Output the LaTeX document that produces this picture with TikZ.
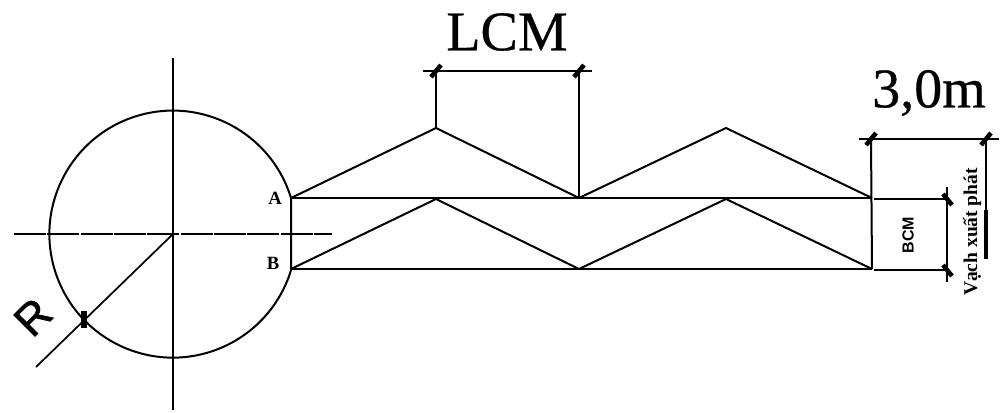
\documentclass[tikz,border=0pt]{standalone}
\usepackage{fontspec}
\setmainfont{Liberation Serif}
\setsansfont{Liberation Sans}
\newfontfamily\heavyserif[FakeBold=0.5]{Liberation Serif}
\newfontfamily\heavysans[FakeBold=1.5]{Liberation Sans}
\usetikzlibrary{calc}
\tikzset{
  ln/.style={line width=1.5pt,black},
  thin ln/.style={line width=1.3pt,black},
  centre ln/.style={line width=1.3pt,black,dash pattern=on 24pt off 1pt},
  tick/.style={line width=3.4pt,black},
  big/.style={font=\fontsize{42}{42}\selectfont\heavyserif,inner sep=0pt},
  lab/.style={font=\fontsize{14}{14}\selectfont\bfseries,inner sep=0pt},
}
\newcommand{\slashtick}[1]{\draw[tick] ($(#1)+(-5,6)$) -- ($(#1)+(5,-6)$);}
\begin{document}
\begin{tikzpicture}[x=0.75pt,y=-0.75pt]
\useasboundingbox (0,0) rectangle (1000,412);
% key points
\coordinate (O) at (173,234);
\coordinate (A) at (291,198);
\coordinate (B) at (291,269);
\coordinate (a1) at (436,128);
\coordinate (a2) at (579,198);
\coordinate (a3) at (726,128);
\coordinate (a4) at (872,198);
\coordinate (b1) at (436,199);
\coordinate (b2) at (579,269);
\coordinate (b3) at (726,199);
\coordinate (b4) at (872,269);
\coordinate (hL) at (14,234);
\coordinate (hR) at (332,234);
\coordinate (vT) at (173,58);
\coordinate (vB) at (173,410);
\coordinate (Rend) at (36,367);
\coordinate (Rt) at (84,320);
\coordinate (Lt1) at (436,71);
\coordinate (Lt2) at (579,71);
\coordinate (Ll) at (423,71);
\coordinate (Lr) at (592,71);
\coordinate (Tt1) at (871,139);
\coordinate (Tt2) at (986,139);
\coordinate (Tl) at (859,139);
\coordinate (Tr) at (999,139);
\coordinate (Bt1) at (947,199);
\coordinate (Bt2) at (947,270);
\coordinate (Btop) at (947,187);
\coordinate (Bbot) at (947,282);
\coordinate (BA) at (874,199);
\coordinate (BB) at (874,270);
\coordinate (Sm) at (986,210);
\coordinate (Se) at (986,259);
% circle and axes
\draw[ln] (A) arc[start angle=-17,end angle=-343,radius=123.5] -- cycle;
\draw[centre ln] (hL) -- (hR);
\draw[thin ln] (vT) -- (vB);
\draw[thin ln] (O) -- (Rend);
\draw[line width=4pt] ($(Rt)+(0,-9)$) -- ($(Rt)+(0,8)$);
% track
\draw[ln] (A) -- (a1) -- (a2) -- (a3) -- (a4);
\draw[ln] (B) -- (b1) -- (b2) -- (b3) -- (b4);
\draw[ln] (A) -- (a4);
\draw[ln] (B) -- (b4);
% LCM dimension
\draw[ln] (Ll) -- (Lr);
\draw[ln] (Lt1) -- (a1);
\draw[ln] (Lt2) -- (a2);
\slashtick{Lt1}
\slashtick{Lt2}
% 3,0m dimension
\draw[ln] (Tl) -- (Tr);
\draw[ln] (Tt1) -- (b4);
\draw[thin ln] (Tt2) -- (Sm);
\draw[line width=2.8pt] (Sm) -- (Se);
\slashtick{Tt1}
\slashtick{Tt2}
% BCM dimension
\draw[ln] (BA) -- (Bt1);
\draw[ln] (BB) -- (Bt2);
\draw[ln] (Btop) -- (Bbot);
\draw[tick] ($(Bt1)+(-4,-5)$) -- ($(Bt1)+(5,6)$);
\draw[tick] ($(Bt2)+(-4,-5)$) -- ($(Bt2)+(5,6)$);
% labels
\node[big] (lcm) at (507,32) {LCM};
\node[big] (three) at (929,93) {3,0m};
\node[lab] (la) at (275,198) {A};
\node[lab] (lb) at (273,263) {B};
\node[font=\fontsize{12}{12}\selectfont\sffamily\bfseries,inner sep=0pt,rotate=90] (bcm) at (908,235) {BCM};
\node[font=\fontsize{14.6}{14.6}\selectfont\bfseries,inner sep=0pt,rotate=90] (vach) at (972,232) {Vạch xuất phát};
\node[font=\fontsize{33}{33}\selectfont\heavysans,inner sep=0pt,rotate=45] (r) at (33,317) {R};
\end{tikzpicture}
\end{document}
